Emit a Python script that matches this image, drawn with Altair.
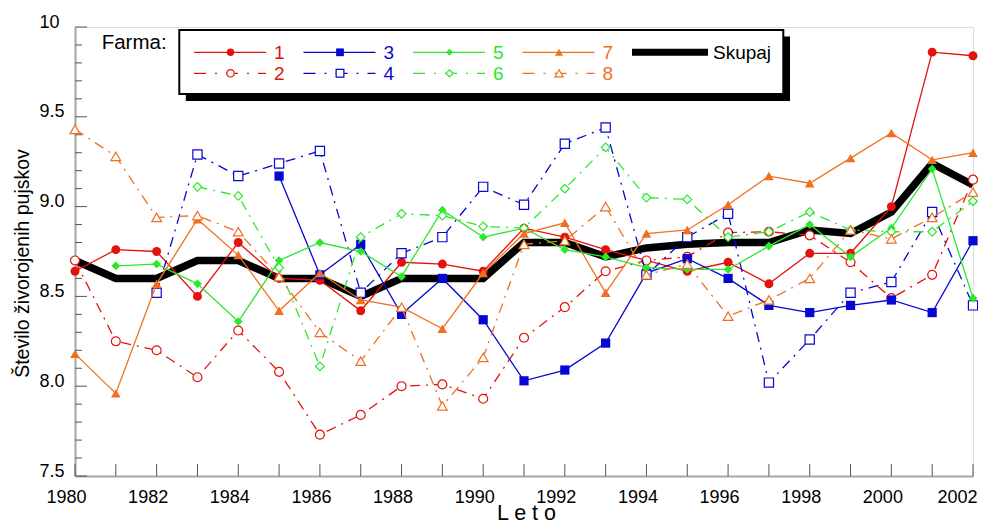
import altair as alt
import pandas as pd

# ---------------- data ----------------
years = list(range(1980, 2003))

farma_1 = [8.64, 8.76, 8.75, 8.50, 8.80, 8.60, 8.59, 8.42, 8.69, 8.68, 8.64, 8.88,
           8.83, 8.76, 8.70, 8.64, 8.69, 8.57, 8.74, 8.74, 9.00, 9.86, 9.84]
farma_2 = [8.70, 8.25, 8.20, 8.05, 8.31, 8.08, 7.73, 7.84, 8.00, 8.01, 7.93, 8.27,
           8.44, 8.64, 8.70, 8.72, 8.855, 8.86, 8.84, 8.69, 8.49, 8.62, 9.15]
farma_3 = [None, None, None, None, None, 9.17, 8.62, 8.79, 8.40, 8.60, 8.37, 8.03,
           8.09, 8.24, 8.63, 8.71, 8.60, 8.45, 8.41, 8.45, 8.48, 8.41, 8.81]
farma_4 = [None, None, 8.52, 9.29, 9.17, 9.24, 9.31, 8.52, 8.74, 8.83, 9.11, 9.01,
           9.35, 9.44, 8.62, 8.83, 8.96, 8.02, 8.26, 8.52, 8.58, 8.97, 8.45]
farma_5 = [None, 8.67, 8.68, 8.57, 8.36, 8.70, 8.80, 8.75, 8.61, 8.98, 8.83, 8.88,
           8.76, 8.72, 8.66, 8.65, 8.65, 8.78, 8.90, 8.72, 8.88, 9.21, 8.49]
farma_6 = [None, None, None, 9.11, 9.06, 8.66, 8.11, 8.83, 8.96, 8.95, 8.89, 8.88,
           9.10, 9.33, 9.05, 9.04, 8.83, 8.86, 8.97, 8.87, 8.86, 8.86, 9.03]
farma_7 = [8.18, 7.96, 8.57, 8.93, 8.73, 8.42, 8.63, 8.48, 8.44, 8.32, 8.63, 8.85,
           8.91, 8.52, 8.85, 8.87, 9.01, 9.17, 9.13, 9.27, 9.41, 9.26, 9.30]
farma_8 = [9.43, 9.28, 8.94, 8.95, 8.86, 8.61, 8.30, 8.14, 8.44, 7.89, 8.16, 8.79,
           8.81, 9.00, 8.62, 8.68, 8.39, 8.48, 8.60, 8.87, 8.82, 8.94, 9.08]
skupaj = [8.70, 8.60, 8.60, 8.70, 8.70, 8.60, 8.60, 8.50, 8.60, 8.60, 8.60, 8.80,
          8.80, 8.72, 8.77, 8.79, 8.80, 8.80, 8.87, 8.85, 8.97, 9.24, 9.12]

farma_names = ["1", "2", "3", "4", "5", "6", "7", "8"]
farma_values = [farma_1, farma_2, farma_3, farma_4, farma_5, farma_6, farma_7, farma_8]
skupaj_name = "Skupaj"

x_tick_labels = list(range(1980, 2003, 2))
x_tick_marks = years
y_tick_labels = [7.5, 8.0, 8.5, 9.0, 9.5, 10.0]
y_minor_ticks = [7.6, 7.7, 7.8, 7.9, 8.1, 8.2, 8.3, 8.4, 8.6, 8.7, 8.8, 8.9,
                 9.1, 9.2, 9.3, 9.4, 9.6, 9.7, 9.8, 9.9]

# ---------------- styles ----------------
RED, BLUE, GREEN, ORANGE = "#e3120b", "#0707d4", "#2be82b", "#f0701e"
style = {
    "1": dict(color=RED, shape="circle", filled=True, size=80),
    "2": dict(color=RED, shape="circle", filled=False, size=80),
    "3": dict(color=BLUE, shape="square", filled=True, size=85),
    "4": dict(color=BLUE, shape="square", filled=False, size=85),
    "5": dict(color=GREEN, shape="diamond", filled=True, size=75),
    "6": dict(color=GREEN, shape="diamond", filled=False, size=75),
    "7": dict(color=ORANGE, shape="triangle-up", filled=True, size=95),
    "8": dict(color=ORANGE, shape="triangle-up", filled=False, size=95),
}
legend_marker_size = {"circle": 55, "square": 60, "diamond": 50, "triangle-up": 65}
DASH = [10, 6, 2, 6]
LEGEND_DASH = [12, 9, 2, 9]
FONT = "Liberation Sans"

W, H = 898, 449
x_scale = alt.Scale(domain=[1980, 2002], nice=False, zero=False)
y_scale = alt.Scale(domain=[7.5, 10], nice=False, zero=False)

# ---------------- main plot ----------------
sk_df = pd.DataFrame({"year": years, "value": skupaj})

last_year_test = "datum.value == 2002"
x_axis = alt.Axis(values=x_tick_labels, format="d", title="L e t o", ticks=False, tickSize=0,
                  grid=False, domainColor="#a5a5a5", domainWidth=2, labelFontSize=18,
                  labelColor="black", labelPadding=26.5, labelBaseline="alphabetic",
                  labelAlign={"condition": {"test": last_year_test, "value": "right"},
                              "value": "center"},
                  labelOffset={"condition": {"test": last_year_test, "value": 4},
                               "value": -9},
                  labelFlush=False, labelBound=False, titleFontSize=21.5,
                  titleFontWeight="normal", titleX=451, titleY=43.5,
                  titleBaseline="alphabetic", titleAlign="center")
y_axis = alt.Axis(values=y_tick_labels,
                  labelExpr="datum.value == 10 ? '10' : format(datum.value, '.1f')",
                  title="Število živorojenih pujskov", ticks=False, tickSize=0, grid=False,
                  domainColor="#a5a5a5", domainWidth=2, labelFontSize=18, labelColor="black",
                  labelAlign="left", labelBaseline="alphabetic", labelPadding=36,
                  labelFlush=False, titleFontSize=19.5, titleFontWeight="normal",
                  titleAngle=-90, titleX=-47, titleY=236, titleBaseline="alphabetic",
                  titleAlign="center")

xt_df = pd.DataFrame({"year": x_tick_marks})
x_ticks = alt.Chart(xt_df).mark_rule(color="#555555", strokeWidth=1).encode(
    x=alt.X("year:Q", scale=x_scale, axis=x_axis), y=alt.value(H), y2=alt.value(H - 12))

ymaj_df = pd.DataFrame({"value": y_tick_labels})
y_major = alt.Chart(ymaj_df).mark_rule(color="#555555", strokeWidth=1).encode(
    y=alt.Y("value:Q", scale=y_scale, axis=y_axis), x=alt.value(0), x2=alt.value(12))
ymin_df = pd.DataFrame({"value": y_minor_ticks})
y_minor = alt.Chart(ymin_df).mark_rule(color="#555555", strokeWidth=1).encode(
    y=alt.Y("value:Q", scale=y_scale), x=alt.value(0), x2=alt.value(7))

sk_line = alt.Chart(sk_df).mark_line(color="black", strokeWidth=7.5, strokeJoin="miter").encode(
    x=alt.X("year:Q", scale=x_scale), y=alt.Y("value:Q", scale=y_scale))

layers = [x_ticks, y_major, y_minor, sk_line]
for name, vals in zip(farma_names, farma_values):
    st = style[name]
    df = pd.DataFrame({"year": years, "value": vals}).dropna()
    base = alt.Chart(df).encode(x=alt.X("year:Q", scale=x_scale),
                                y=alt.Y("value:Q", scale=y_scale))
    if st["filled"]:
        line = base.mark_line(color=st["color"], strokeWidth=1.3)
        pts = base.mark_point(shape=st["shape"], size=st["size"], filled=True,
                              color=st["color"], opacity=1)
    else:
        line = base.mark_line(color=st["color"], strokeWidth=1.3, strokeDash=DASH)
        pts = base.mark_point(shape=st["shape"], size=st["size"], fill="white",
                              stroke=st["color"], strokeWidth=1.2, opacity=1)
    layers += [line, pts]

main = alt.layer(*layers)

# ---------------- legend ----------------
leg_rows = []
for i, name in enumerate(farma_names):
    st = style[name]
    leg_rows.append(dict(label=name, col=i // 2, row=i % 2, color=st["color"],
                         shape=st["shape"], filled=st["filled"],
                         msize=legend_marker_size[st["shape"]]))
leg_df = pd.DataFrame(leg_rows)
sk_leg_df = pd.DataFrame([dict(label=skupaj_name, col=4, row=0, color="black")])

lx_scale = alt.Scale(domain=[0, 4], range=[119, 557])
ly_scale = alt.Scale(domain=[0, 1], range=[25.3, 46.3])
lx = alt.X("col:Q", scale=lx_scale, axis=None)
lx2 = alt.X2("col:Q")
ly = alt.Y("row:Q", scale=ly_scale, axis=None)

one = pd.DataFrame({"t": ["Farma:"]})
shadow = alt.Chart(one).mark_rect(color="black").encode(
    x=alt.value(110.8), x2=alt.value(715), y=alt.value(9.5), y2=alt.value(74))
box = alt.Chart(one).mark_rect(fill="white", stroke="black", strokeWidth=2).encode(
    x=alt.value(104.3), x2=alt.value(708.3), y=alt.value(3), y2=alt.value(67))
farma_txt = alt.Chart(one).mark_text(align="left", baseline="alphabetic", fontSize=20.5,
                                     font=FONT, color="black").encode(
    text="t:N", x=alt.value(26.7), y=alt.value(22.3))

solid_rules = alt.Chart(leg_df[leg_df["filled"]]).mark_rule(
    strokeWidth=1.3, x2Offset=72).encode(x=lx, x2=lx2, y=ly,
                                         color=alt.Color("color:N", scale=None))
dash_rules = alt.Chart(leg_df[~leg_df["filled"]]).mark_rule(
    strokeWidth=1.3, x2Offset=72, strokeDash=LEGEND_DASH).encode(
    x=lx, x2=lx2, y=ly, color=alt.Color("color:N", scale=None))
sk_rule = alt.Chart(sk_leg_df).mark_rule(strokeWidth=7, x2Offset=76).encode(
    x=lx, x2=lx2, y=ly, color=alt.Color("color:N", scale=None))
filled_pts = alt.Chart(leg_df[leg_df["filled"]]).mark_point(
    filled=True, opacity=1, xOffset=36.5).encode(
    x=lx, y=ly, shape=alt.Shape("shape:N", scale=None),
    color=alt.Color("color:N", scale=None), size=alt.Size("msize:Q", scale=None))
open_pts = alt.Chart(leg_df[~leg_df["filled"]]).mark_point(
    fill="white", strokeWidth=1.2, opacity=1, xOffset=36.5).encode(
    x=lx, y=ly, shape=alt.Shape("shape:N", scale=None),
    stroke=alt.Stroke("color:N", scale=None), size=alt.Size("msize:Q", scale=None))
labels = alt.Chart(leg_df).mark_text(align="left", baseline="middle", dx=80, dy=1,
                                     fontSize=19, font=FONT).encode(
    x=lx, y=ly, text="label:N", color=alt.Color("color:N", scale=None))
sk_label = alt.Chart(sk_leg_df).mark_text(align="left", baseline="middle", dx=81, dy=1,
                                          fontSize=19, font=FONT).encode(
    x=lx, y=ly, text="label:N", color=alt.Color("color:N", scale=None))

legend = alt.layer(shadow, box, farma_txt, solid_rules, dash_rules, sk_rule,
                   filled_pts, open_pts, labels, sk_label)

chart = alt.layer(main, legend).resolve_scale(x="independent", y="independent").properties(
    width=W, height=H,
    padding={"left": 67, "top": 19, "right": 5, "bottom": 47},
    autosize=alt.AutoSizeParams(type="none"),
    background="white",
).configure_view(stroke=None).configure(font=FONT)

chart.save("out.html", embed_options={"renderer": "svg", "actions": False})
